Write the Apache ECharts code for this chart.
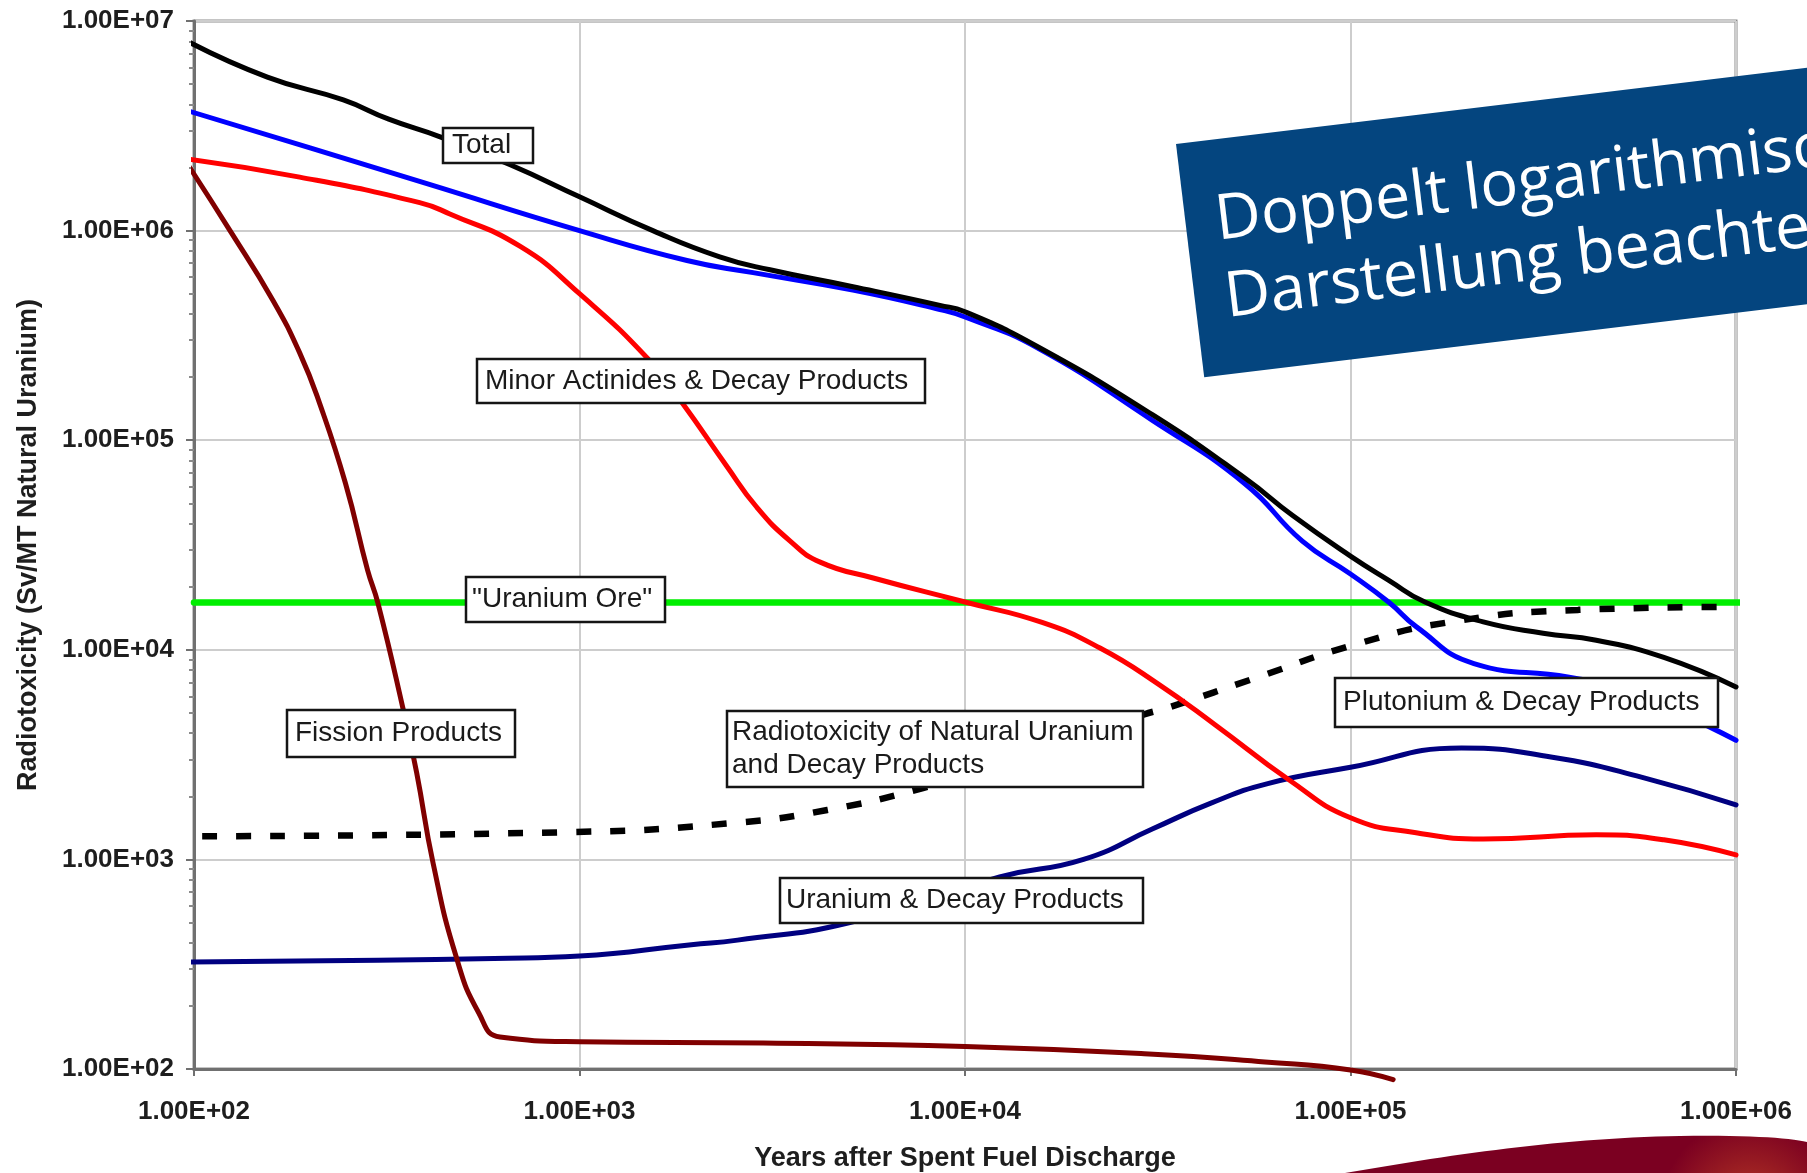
<!DOCTYPE html>
<html>
<head>
<meta charset="utf-8">
<script src="https://cdn.jsdelivr.net/npm/echarts@6/dist/echarts.min.js"></script>
<style>
  html, body { margin: 0; padding: 0; background: #ffffff; }
  #chart { width: 1807px; height: 1173px; }
</style>
</head>
<body>
<div id="chart"></div>
<script>
// Tick labels of both logarithmic axes
const xTickLabels = ['1.00E+02', '1.00E+03', '1.00E+04', '1.00E+05', '1.00E+06'];
const yTickLabels = ['1.00E+02', '1.00E+03', '1.00E+04', '1.00E+05', '1.00E+06', '1.00E+07'];

// Total radiotoxicity
const totalYears  = [95, 155, 244, 320, 435, 661, 1000, 1550, 2310, 3120, 5120, 8610, 10000, 15400, 30700, 53200, 70800, 100000, 126000, 156000, 221000, 316000, 434000, 650000, 1000000];
const totalValues = [8.1e6, 5.4e6, 4.2e6, 3.4e6, 2.8e6, 2.06e6, 1.45e6, 1.0e6, 7.5e5, 6.5e5, 5.4e5, 4.4e5, 4.1e5, 2.8e5, 1.32e5, 6.6e4, 4.37e4, 2.8e4, 2.14e4, 1.69e4, 1.36e4, 1.2e4, 1.11e4, 9.2e3, 6.65e3];

// Plutonium & decay products
const plutYears  = [95, 200, 400, 1000, 1900, 2820, 5120, 8610, 10000, 15400, 30700, 53200, 75000, 100000, 126000, 148000, 209000, 369000, 560000, 851000, 1000000];
const plutValues = [3.76e6, 2.48e6, 1.68e6, 1.0e6, 7.2e5, 6.3e5, 5.2e5, 4.2e5, 3.87e5, 2.76e5, 1.24e5, 6.2e4, 3.3e4, 2.3e4, 1.68e4, 1.29e4, 8.6e3, 7.4e3, 6.2e3, 4.3e3, 3.7e3];

// Minor actinides & decay products
const minorYears  = [95, 188, 385, 461, 702, 1000, 1520, 1850, 2400, 2880, 3520, 4210, 5780, 10000, 15850, 22400, 31600, 44700, 69200, 100000, 148000, 221000, 434000, 650000, 1000000];
const minorValues = [2.2e6, 1.8e6, 1.36e6, 1.2e6, 8.4e5, 5.0e5, 2.4e5, 1.5e5, 7.6e4, 4.8e4, 3.3e4, 2.62e4, 2.2e4, 1.69e4, 1.35e4, 1.02e4, 6.9e3, 4.37e3, 2.4e3, 1.58e3, 1.34e3, 1.25e3, 1.31e3, 1.24e3, 1.05e3];

// Uranium & decay products
const uranYears  = [95, 300, 600, 1000, 1950, 2570, 5030, 12300, 20300, 30700, 43300, 61000, 100000, 194000, 331000, 568000, 1000000];
const uranValues = [324, 330, 337, 346, 392, 412, 500, 824, 1000, 1400, 1850, 2300, 2750, 3400, 3080, 2470, 1820];

// Natural uranium and decay products
const natYears  = [105, 951, 2490, 4390, 7780, 12600, 20000, 29000, 33700, 57500, 101000, 183000, 389000, 900000];
const natValues = [1290, 1350, 1490, 1720, 2190, 2850, 3800, 4900, 5300, 7400, 10500, 13600, 15500, 16000];

// Fission products
const fissYears  = [95, 124, 160, 188, 212, 247, 282, 300, 348, 378, 417, 479, 548, 622, 1000, 3000, 10000, 30000, 60000, 100000, 129000];
const fissValues = [2.15e6, 1.0e6, 4.67e5, 2.61e5, 1.49e5, 6.25e4, 2.4e4, 1.67e4, 5.3e3, 2.6e3, 962, 342, 185, 142, 135, 133, 128, 118, 108, 99, 89];

// "Uranium Ore" reference level
const oreYears  = [100, 1070000];
const oreValues = [16800, 16800];

const pairs = (xs, ys) => xs.map((x, i) => [x, ys[i]]);

const chart = echarts.init(document.getElementById('chart'), null, { renderer: 'canvas' });

const FONT = '"Liberation Sans", Arial, sans-serif';
const tickText = { fontFamily: FONT, fontWeight: 'bold', fontSize: 26, color: '#1e1e1e' };

function line(name, data, color, width, extra) {
  return Object.assign({
    name: name,
    type: 'line',
    data: data,
    showSymbol: false,
    smooth: 0.5,
    clip: false,
    silent: true,
    lineStyle: { color: color, width: width, cap: 'round', join: 'round' }
  }, extra || {});
}

// Boxed callouts drawn above the curves
function callout(text, x, y, w, h, pad, lineHeight) {
  return {
    type: 'group',
    z: 100,
    children: [
      { type: 'rect', z: 100, shape: { x: x, y: y, width: w, height: h },
        style: { fill: '#ffffff', stroke: '#151515', lineWidth: 2.5 } },
      { type: 'text', z: 101, x: x + pad, y: y + h / 2,
        style: { text: text, font: '28px ' + FONT, fill: '#1a1a1a',
                 verticalAlign: 'middle', align: 'left', lineHeight: lineHeight || 28 } }
    ]
  };
}

// Dark red swoosh in the lower right corner
function swooshPoints() {
  const p0 = [1345, 1173], c1 = [1450, 1155], c2 = [1560, 1138], p1 = [1680, 1136];
  const q1 = [1750, 1135], q2 = [1790, 1138], p2 = [1807, 1142];
  const bez = (a, b, c, d, t) => {
    const u = 1 - t;
    return [u*u*u*a[0] + 3*u*u*t*b[0] + 3*u*t*t*c[0] + t*t*t*d[0],
            u*u*u*a[1] + 3*u*u*t*b[1] + 3*u*t*t*c[1] + t*t*t*d[1]];
  };
  const pts = [];
  for (let i = 0; i <= 30; i++) pts.push(bez(p0, c1, c2, p1, i / 30));
  for (let i = 1; i <= 15; i++) pts.push(bez(p1, q1, q2, p2, i / 15));
  pts.push([1807, 1173]);
  return pts;
}

const option = {
  backgroundColor: '#ffffff',
  animation: false,
  grid: {
    left: 194, top: 21, width: 1542, height: 1048,
    outerBoundsMode: 'none', containLabel: false,
    show: true, borderColor: '#8c8c8c', borderWidth: 3, backgroundColor: '#ffffff'
  },
  xAxis: {
    type: 'log', logBase: 10, min: 100, max: 1000000,
    name: 'Years after Spent Fuel Discharge',
    nameLocation: 'middle', nameGap: 76,
    nameTextStyle: { fontFamily: FONT, fontWeight: 'bold', fontSize: 27, color: '#1e1e1e' },
    axisLine: { lineStyle: { color: '#707070', width: 3 } },
    axisTick: { show: true, length: 7, lineStyle: { color: '#707070', width: 2 } },
    axisLabel: Object.assign({ margin: 30,
      formatter: v => xTickLabels[Math.round(Math.log10(v)) - 2] }, tickText),
    splitLine: { show: true, lineStyle: { color: '#cdcdcd', width: 2 } }
  },
  yAxis: {
    type: 'log', logBase: 10, min: 100, max: 10000000,
    name: 'Radiotoxicity (Sv/MT Natural Uranium)',
    nameLocation: 'middle', nameGap: 152,
    nameTextStyle: { fontFamily: FONT, fontWeight: 'bold', fontSize: 27, color: '#1e1e1e' },
    axisLine: { lineStyle: { color: '#707070', width: 3 } },
    axisTick: { show: true, length: 8, lineStyle: { color: '#707070', width: 2 } },
    minorTick: { show: true, splitNumber: 9, length: 5, lineStyle: { color: '#8a8a8a', width: 2 } },
    axisLabel: Object.assign({ margin: 20,
      formatter: v => yTickLabels[Math.round(Math.log10(v)) - 2] }, tickText),
    splitLine: { show: true, lineStyle: { color: '#cdcdcd', width: 2 } }
  },
  series: [
    line('Uranium Ore', pairs(oreYears, oreValues), '#00ee00', 6.5, { smooth: false, z: 2 }),
    line('Natural Uranium', pairs(natYears, natValues), '#000000', 6,
         { z: 3, lineStyle: { color: '#000000', width: 6.5, type: [15, 19], cap: 'butt' } }),
    line('Uranium & Decay Products', pairs(uranYears, uranValues), '#000080', 5, { z: 4 }),
    line('Minor Actinides & Decay Products', pairs(minorYears, minorValues), '#ff0000', 5, { z: 5 }),
    line('Fission Products', pairs(fissYears, fissValues), '#800000', 5, { z: 6 }),
    line('Plutonium & Decay Products', pairs(plutYears, plutValues), '#0000ff', 5, { z: 7 }),
    line('Total', pairs(totalYears, totalValues), '#000000', 5, { z: 8 })
  ],
  graphic: [
    callout('Total', 443, 128, 90, 35, 9),
    callout('Minor Actinides & Decay Products', 477, 359, 448, 44, 8),
    callout('"Uranium Ore"', 466, 577, 199, 45, 6),
    callout('Fission Products', 287, 710, 228, 47, 8),
    callout('Radiotoxicity of Natural Uranium\nand Decay Products', 727, 711, 416, 76, 5, 33),
    callout('Uranium & Decay Products', 780, 878, 363, 45, 6),
    callout('Plutonium & Decay Products', 1335, 678, 383, 49, 8),
    {
      type: 'group', x: 1176, y: 144, rotation: 6.9 * Math.PI / 180, z: 120,
      children: [
        { type: 'rect', z: 120, shape: { x: 0, y: 0, width: 760, height: 235 },
          style: { fill: '#04457f' } },
        { type: 'text', z: 121, x: 30, y: 121,
          style: { text: 'Doppelt logarithmische\nDarstellung beachten',
                   font: '63px "Open Sans", "Noto Sans", sans-serif', fill: '#ffffff',
                   verticalAlign: 'middle', align: 'left', lineHeight: 78 } }
      ]
    },
    {
      type: 'polygon', z: 120,
      shape: { points: swooshPoints() },
      style: {
        fill: new echarts.graphic.RadialGradient(1750, 1210, 90, [
          { offset: 0, color: '#b93a26' },
          { offset: 0.55, color: '#961a22' },
          { offset: 1, color: '#7b0021' }
        ], true)
      }
    }
  ]
};

chart.setOption(option);
</script>
</body>
</html>
